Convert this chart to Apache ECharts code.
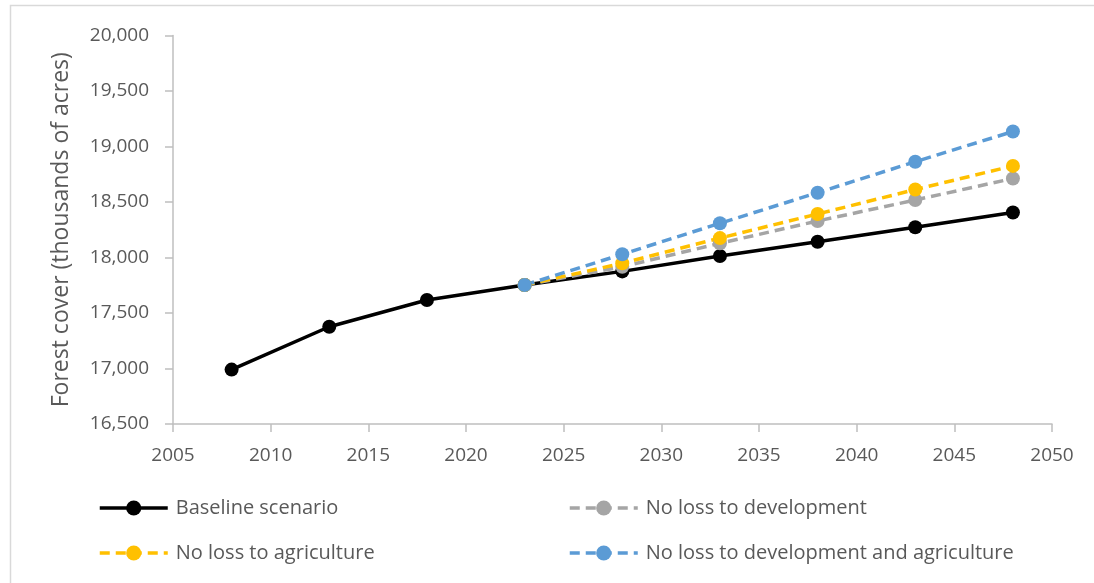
<!DOCTYPE html>
<html>
<head>
<meta charset="utf-8">
<script src="https://cdn.jsdelivr.net/npm/echarts@6/dist/echarts.min.js"></script>
<style>
  html, body { margin: 0; padding: 0; background: #ffffff; }
  #chart { width: 1094px; height: 583px; }
</style>
</head>
<body>
<div id="chart"></div>
<script>
// Forest cover projections by scenario (thousands of acres)
const years = [2008, 2013, 2018, 2023, 2028, 2033, 2038, 2043, 2048];
const scenarioYears = [2023, 2028, 2033, 2038, 2043, 2048];

const baseline = [16990, 17376, 17617, 17752, 17875, 18013, 18142, 18272, 18405];
const noLossDevelopment = [17752, 17917, 18128, 18329, 18518, 18712];
const noLossAgriculture = [17752, 17948, 18175, 18392, 18612, 18825];
const noLossBoth = [17752, 18029, 18308, 18584, 18863, 19135];

const seriesNames = [
  'Baseline scenario',
  'No loss to development',
  'No loss to agriculture',
  'No loss to development and agriculture'
];
const seriesColors = ['#000000', '#a5a5a5', '#ffc000', '#5b9bd5'];

const yTicks = { min: 16500, max: 20000, step: 500 };
const xTicks = { min: 2005, max: 2050, step: 5 };

function pairs(xs, ys) {
  return xs.map((x, i) => [x, ys[i]]);
}

const font = '"Open Sans", "Liberation Sans", sans-serif';
const textGrey = '#595959';
const dash = [10, 6];

function lineSeries(name, data, color, dashed) {
  return {
    name: name,
    type: 'line',
    data: data,
    symbol: 'circle',
    symbolSize: 14,
    itemStyle: { color: color },
    lineStyle: { color: color, width: 3.5, type: dashed ? dash : 'solid' },
    emphasis: { disabled: true },
    animation: false
  };
}

function legendAt(index, left, top) {
  return {
    data: [seriesNames[index]],
    left: left,
    top: top,
    itemWidth: 68,
    itemHeight: 19,
    lineStyle: { width: 3.5 },
    textStyle: { fontFamily: font, fontSize: 20, color: textGrey, padding: [0, 0, 0, 3] },
    selectedMode: false
  };
}

const chart = echarts.init(document.getElementById('chart'), null, { renderer: 'canvas' });

chart.setOption({
  backgroundColor: '#ffffff',
  animation: false,
  graphic: [{
    type: 'rect',
    shape: { x: 10.5, y: 5.5, width: 1100, height: 600 },
    style: { fill: 'none', stroke: '#d9d9d9', lineWidth: 1.5 },
    silent: true
  }],
  grid: { left: 173, right: 42, top: 35.5, bottom: 159, containLabel: false },
  xAxis: {
    type: 'value',
    min: xTicks.min,
    max: xTicks.max,
    interval: xTicks.step,
    splitLine: { show: false },
    axisLine: { show: true, lineStyle: { color: '#bfbfbf', width: 1.5 } },
    axisTick: { show: true, length: 8, lineStyle: { color: '#bfbfbf', width: 1.5 } },
    axisLabel: {
      color: textGrey, fontFamily: font, fontSize: 19, margin: 22,
      formatter: v => String(v)
    }
  },
  yAxis: {
    type: 'value',
    min: yTicks.min,
    max: yTicks.max,
    interval: yTicks.step,
    name: 'Forest cover (thousands of acres)',
    nameLocation: 'middle',
    nameGap: 100,
    nameTextStyle: { color: textGrey, fontFamily: font, fontSize: 23 },
    splitLine: { show: false },
    axisLine: { show: true, lineStyle: { color: '#bfbfbf', width: 1.5 } },
    axisTick: { show: true, length: 8, lineStyle: { color: '#bfbfbf', width: 1.5 } },
    axisLabel: {
      color: textGrey, fontFamily: font, fontSize: 19, margin: 24,
      formatter: v => v.toLocaleString('en-US')
    }
  },
  legend: [
    legendAt(0, 93, 493),
    legendAt(1, 563, 493),
    legendAt(2, 93, 538),
    legendAt(3, 563, 538)
  ],
  series: [
    lineSeries(seriesNames[0], pairs(years, baseline), seriesColors[0], false),
    lineSeries(seriesNames[1], pairs(scenarioYears, noLossDevelopment), seriesColors[1], true),
    lineSeries(seriesNames[2], pairs(scenarioYears, noLossAgriculture), seriesColors[2], true),
    lineSeries(seriesNames[3], pairs(scenarioYears, noLossBoth), seriesColors[3], true)
  ]
});
</script>
</body>
</html>
